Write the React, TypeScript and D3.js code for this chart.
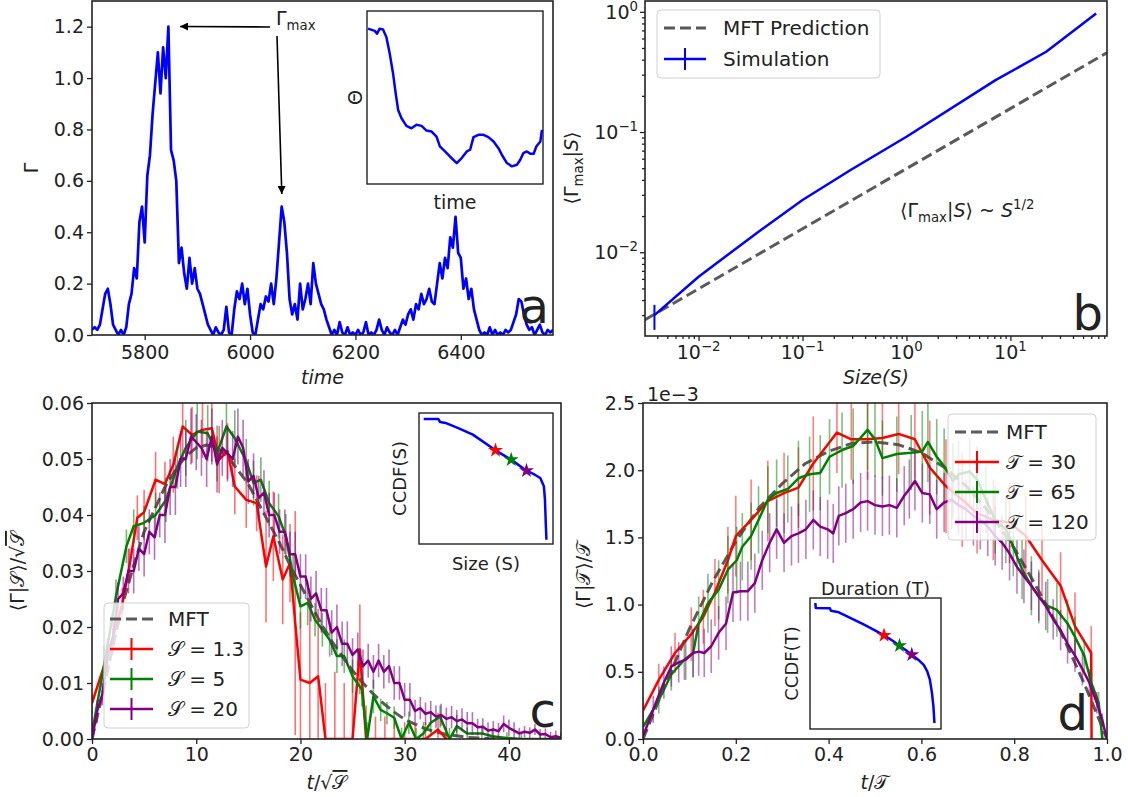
import React, { useEffect, useRef } from "react";
import * as d3 from "d3";

const FONT = "DejaVu Sans, sans-serif";
const INK = "#222";
const BLUE = "#0000ff";
const RED = "#ff0000";
const GREEN = "#008000";
const PURPLE = "#800080";
const MFT = "#5a5a5a";
const SCRIPT_S = "\u{1D4AE}";
const SCRIPT_T = "\u{1D4AF}";

/* ---------------------------------------
   Panel a: Gamma(t) time series + Theta inset
-----------------------------------------*/
const aStart = 5700;
const aStep = 5;
const aGamma = [
  0.02, 0.03, 0.02, 0.04, 0.10, 0.16, 0.18, 0.12, 0.04, 0.02,
  0.00, 0.02, 0.00, 0.03, 0.12, 0.16, 0.26, 0.22, 0.44, 0.50,
  0.36, 0.62, 0.70, 0.86, 0.98, 1.10, 0.94, 1.12, 1.00, 1.20,
  0.72, 0.68, 0.60, 0.28, 0.34, 0.24, 0.18, 0.30, 0.20, 0.26,
  0.18, 0.16, 0.12, 0.08, 0.04, 0.02, 0.00, 0.03, 0.01, 0.00,
  0.02, 0.11, 0.01, 0.00, 0.10, 0.17, 0.14, 0.20, 0.12, 0.18,
  0.08, 0.01, 0.00, 0.06, 0.12, 0.10, 0.15, 0.13, 0.20, 0.12,
  0.22, 0.36, 0.50, 0.44, 0.32, 0.14, 0.08, 0.12, 0.06, 0.20,
  0.10, 0.14, 0.20, 0.12, 0.28, 0.20, 0.16, 0.12, 0.10, 0.06,
  0.03, 0.00, 0.02, 0.00, 0.05, 0.01, 0.00, 0.03, 0.00, 0.01,
  0.00, 0.02, 0.00, 0.01, 0.05, 0.00, 0.01, 0.00, 0.02, 0.06,
  0.02, 0.00, 0.03, 0.01, 0.00, 0.02, 0.00, 0.03, 0.06, 0.04,
  0.08, 0.10, 0.06, 0.12, 0.10, 0.16, 0.12, 0.14, 0.18, 0.13,
  0.12, 0.20, 0.28, 0.22, 0.30, 0.26, 0.38, 0.34, 0.46, 0.32,
  0.30, 0.18, 0.22, 0.14, 0.18, 0.10, 0.06, 0.02, 0.00, 0.01,
  0.00, 0.03, 0.00, 0.02, 0.00, 0.01, 0.00, 0.02, 0.01, 0.02,
  0.05, 0.08, 0.14, 0.13, 0.08, 0.04, 0.02, 0.03, 0.00, 0.02,
  0.04, 0.01, 0.00, 0.02, 0.01, 0.02,
];
const aXTicks = [5800, 6000, 6200, 6400];
const aYTicks = [0, 0.2, 0.4, 0.6, 0.8, 1.0, 1.2];

const thetaTime = [
  0.6, 4.4, 5.7, 7.2, 9.1, 11.0, 12.9, 14.8, 16.3, 17.7, 19.6, 22.4, 25.3, 28.1,
  31.0, 33.8, 36.7, 39.5, 41.4, 44.3, 47.1, 51.0, 53.8, 56.7, 58.6, 60.5, 63.3,
  66.2, 69.0, 71.9, 74.7, 76.6, 79.5, 82.3, 85.2, 87.1, 88.8, 90.9, 92.8, 94.7,
  96.2, 98.5, 99.4,
];
const thetaVal = [
  0.898, 0.885, 0.869, 0.898, 0.893, 0.85, 0.754, 0.639, 0.524, 0.428, 0.38,
  0.336, 0.322, 0.342, 0.336, 0.309, 0.303, 0.274, 0.217, 0.188, 0.159, 0.121,
  0.15, 0.188, 0.198, 0.271, 0.284, 0.284, 0.271, 0.246, 0.207, 0.169, 0.121,
  0.102, 0.111, 0.14, 0.178, 0.188, 0.175, 0.175, 0.217, 0.246, 0.313,
];

/* ---------------------------------------
   Panel b: <Gamma_max | S> vs S (log-log)
-----------------------------------------*/
const bSimSize = [0.00376, 0.01, 0.0361, 0.1, 0.29, 1, 7.2, 22.1, 66.8];
const bSimGamma = [0.003, 0.00626, 0.0144, 0.0272, 0.0483, 0.0914, 0.27, 0.465, 0.97];
const bSimErrLow = [0.00226];
const bSimErrHigh = [0.00365];
const bMftSize = [0.00305, 85];
const bMftGamma = [0.00274, 0.457];
const bXExp = [-2, -1, 0, 1];
const bYExp = [-2, -1, 0];

/* ---------------------------------------
   Panel c: average shape at fixed size
-----------------------------------------*/
const cMftT = [0, 1, 2, 3, 4, 5, 6, 7, 8, 9, 10, 11, 12, 13, 14, 15, 16, 17, 18, 19, 20, 21, 22, 23, 24, 25, 26, 27, 28, 29, 30, 32, 34, 36, 38, 40];
const cMftV = [
  0, 0.008, 0.0165, 0.0245, 0.031, 0.037, 0.041, 0.045, 0.048, 0.0505,
  0.052, 0.0525, 0.052, 0.0505, 0.048, 0.0455, 0.042, 0.0385, 0.035, 0.031,
  0.0275, 0.024, 0.0205, 0.0175, 0.0148, 0.0122, 0.01, 0.008, 0.0063, 0.0048,
  0.0035, 0.0018, 0.0008, 0.0003, 0.0001, 0,
];
const cRedT = [0, 1.5, 2.9, 3.6, 4.35, 5, 6.1, 7, 7.8, 8.7, 9.6, 10.6, 11.5, 12.2, 13, 13.7, 14.8, 15.8, 16.7, 17.4, 18.3, 19, 19.5, 20, 20.9, 21.7, 22.4, 23.3, 24.2, 25, 25.7, 26.3, 27.2, 28.1, 29, 30, 31, 32, 33.2, 34];
const cRedV = [
  0.0064, 0.015, 0.024, 0.031, 0.0395, 0.0405, 0.0463, 0.0455, 0.049, 0.0558,
  0.0543, 0.0552, 0.0555, 0.0499, 0.0514, 0.0451, 0.0427, 0.0421, 0.0308, 0.0362,
  0.0285, 0.0314, 0.0207, 0.0106, 0.01, 0.0112, 0, 0, 0, 0,
  0.016, 0, 0, 0, 0, 0, 0, 0, 0.0017, 0,
];
const cRedE = [
  0.002, 0.003, 0.003, 0.003, 0.004, 0.004, 0.005, 0.004, 0.005, 0.006,
  0.005, 0.005, 0.006, 0.006, 0.005, 0.005, 0.005, 0.005, 0.01, 0.008,
  0.008, 0.007, 0.02, 0.012, 0.015, 0.012, 0.01, 0.012, 0.01, 0.012,
  0.008, 0.006, 0.004, 0.004, 0.004, 0.003, 0.003, 0.003, 0.003, 0.002,
];
const cGreenT = [0, 1.2, 2.3, 3.3, 4, 5, 6.1, 7.1, 8.2, 9, 10.1, 11.1, 12, 12.9, 13.7, 14.8, 15.5, 16.2, 17, 17.9, 18.6, 19.3, 20, 20.7, 21.4, 22.1, 22.8, 23.5, 24.2, 25, 25.9, 26.4, 27, 27.7, 28.3, 29, 29.7, 30.4, 31.1, 31.8, 32.5, 33.4, 34.3, 35, 36, 37.4, 38.4, 39.8, 41.2, 43, 45];
const cGreenV = [
  0.001, 0.0136, 0.0255, 0.0344, 0.038, 0.0386, 0.04, 0.0427, 0.0487, 0.052,
  0.0549, 0.0546, 0.051, 0.0558, 0.0537, 0.0496, 0.0457, 0.0463, 0.0421, 0.0398,
  0.0362, 0.029, 0.0237, 0.0243, 0.0213, 0.0195, 0.0177, 0.0148, 0.0148, 0.0112,
  0.0088, 0, 0.0076, 0.0052, 0.0046, 0.0038, 0, 0.0029, 0, 0.001,
  0.0029, 0.004, 0, 0.0023, 0.001, 0.001, 0.0005, 0.0002, 0, 0, 0,
];
const cGreenE = [
  0.002, 0.003, 0.003, 0.003, 0.003, 0.003, 0.004, 0.004, 0.004, 0.005,
  0.005, 0.005, 0.005, 0.005, 0.005, 0.004, 0.004, 0.004, 0.004, 0.004,
  0.004, 0.004, 0.004, 0.004, 0.003, 0.003, 0.003, 0.003, 0.003, 0.003,
  0.003, 0.003, 0.003, 0.002, 0.002, 0.002, 0.002, 0.002, 0.002, 0.002,
  0.002, 0.002, 0.002, 0.002, 0.001, 0.001, 0.001, 0.001, 0.001, 0.001, 0.001,
];
const cPurpleStep = 0.5;
const cPurpleV = [
  0.0, 0.005, 0.008, 0.015, 0.018, 0.025, 0.026, 0.03, 0.03, 0.034,
  0.033, 0.037, 0.036, 0.04, 0.04, 0.045, 0.045, 0.05, 0.05, 0.054,
  0.053, 0.052, 0.05, 0.054, 0.049, 0.052, 0.051, 0.05, 0.054, 0.052,
  0.046, 0.047, 0.043, 0.044, 0.04, 0.04, 0.037, 0.037, 0.033, 0.033,
  0.029, 0.029, 0.025, 0.026, 0.023, 0.023, 0.019, 0.02, 0.017, 0.017,
  0.015, 0.016, 0.013, 0.014, 0.012, 0.014, 0.012, 0.013, 0.01, 0.01,
  0.007, 0.007, 0.005, 0.0055, 0.0045, 0.0048, 0.004, 0.0043, 0.0036, 0.0039,
  0.0032, 0.0035, 0.0028, 0.0028, 0.0021, 0.0022, 0.0015, 0.0017, 0.0014, 0.0027,
  0.002, 0.0015, 0.001, 0.0013, 0.0011, 0.0017, 0.0008, 0.0009, 0.0003, 0.0005,
  0.0002,
];
const cPurpleE = [
  0.001, 0.002, 0.002, 0.003, 0.003, 0.003, 0.003, 0.004, 0.004, 0.004,
  0.004, 0.004, 0.004, 0.004, 0.005, 0.005, 0.005, 0.005, 0.005, 0.005,
  0.005, 0.005, 0.005, 0.005, 0.005, 0.005, 0.005, 0.005, 0.005, 0.005,
  0.004, 0.004, 0.004, 0.004, 0.004, 0.004, 0.004, 0.004, 0.004, 0.004,
  0.004, 0.004, 0.004, 0.004, 0.004, 0.004, 0.004, 0.004, 0.004, 0.004,
  0.003, 0.003, 0.003, 0.003, 0.003, 0.003, 0.003, 0.003, 0.003, 0.003,
  0.003, 0.003, 0.002, 0.002, 0.002, 0.002, 0.002, 0.002, 0.002, 0.002,
  0.002, 0.002, 0.002, 0.002, 0.0015, 0.0015, 0.0015, 0.0015, 0.0015, 0.0015,
  0.0015, 0.0015, 0.001, 0.001, 0.001, 0.001, 0.001, 0.001, 0.001, 0.001,
  0.001,
];
const cXTicks = [0, 10, 20, 30, 40];
const cYTicks = [0, 0.01, 0.02, 0.03, 0.04, 0.05, 0.06];
const cLegend = ["1.3", "5", "20"];
const cInsetX = [0.035, 0.144, 0.158, 0.198, 0.293, 0.402, 0.571, 0.688, 0.802, 0.864, 0.905, 0.932, 0.94, 0.946, 0.951];
const cInsetY = [0.954, 0.954, 0.931, 0.924, 0.885, 0.835, 0.715, 0.644, 0.56, 0.529, 0.504, 0.44, 0.338, 0.16, 0.033];
const cStarX = [0.571, 0.688, 0.802];
const cStarY = [0.715, 0.644, 0.56];

/* ---------------------------------------
   Panel d: average shape at fixed duration (units of 1e-3)
-----------------------------------------*/
const dMftT = [0, 0.05, 0.1, 0.15, 0.2, 0.25, 0.3, 0.35, 0.4, 0.45, 0.5, 0.55, 0.6, 0.65, 0.7, 0.75, 0.8, 0.85, 0.9, 0.95, 0.98, 1];
const dMftV = [0, 0.42, 0.82, 1.17, 1.47, 1.72, 1.9, 2.05, 2.14, 2.2, 2.21, 2.19, 2.13, 2.02, 1.87, 1.67, 1.42, 1.12, 0.8, 0.42, 0.17, 0];
const dRedT = [0, 0.034, 0.069, 0.104, 0.13, 0.155, 0.183, 0.2, 0.233, 0.269, 0.304, 0.335, 0.367, 0.418, 0.449, 0.484, 0.516, 0.551, 0.586, 0.618, 0.653, 0.688, 0.72, 0.755, 0.79, 0.825, 0.86, 0.9, 0.931, 0.966, 0.967];
const dRedV = [0.21, 0.44, 0.64, 0.78, 0.91, 1.09, 1.33, 1.51, 1.63, 1.77, 1.83, 1.87, 2.05, 2.28, 2.23, 2.23, 2.24, 2.27, 2.23, 2.02, 1.88, 1.78, 1.68, 1.63, 1.61, 1.51, 1.33, 1.14, 0.84, 0.64, -0.2];
const dRedE = [0.1, 0.12, 0.15, 0.2, 0.2, 0.25, 0.25, 0.3, 0.3, 0.3, 0.3, 0.3, 0.35, 0.3, 0.3, 0.3, 0.3, 0.3, 0.3, 0.35, 0.35, 0.35, 0.3, 0.3, 0.3, 0.3, 0.3, 0.25, 0.25, 0.2, 0];
const dGreenT = [0, 0.034, 0.061, 0.089, 0.108, 0.12, 0.14, 0.163, 0.183, 0.202, 0.214, 0.233, 0.249, 0.269, 0.288, 0.312, 0.335, 0.359, 0.382, 0.402, 0.429, 0.453, 0.484, 0.5, 0.516, 0.547, 0.578, 0.602, 0.614, 0.633, 0.649, 0.668, 0.68, 0.704, 0.72, 0.739, 0.759, 0.782, 0.798, 0.817, 0.837, 0.853, 0.872, 0.892, 0.915, 0.931, 0.951, 0.966, 0.982, 0.99];
const dGreenV = [0.09, 0.29, 0.48, 0.59, 0.64, 0.86, 1.01, 1.11, 1.26, 1.33, 1.43, 1.51, 1.63, 1.78, 1.83, 1.86, 1.94, 1.97, 1.98, 2.1, 2.15, 2.18, 2.3, 2.23, 2.09, 2.12, 2.13, 2.14, 2.21, 2.1, 2.03, 1.92, 1.97, 1.99, 1.93, 1.78, 1.63, 1.56, 1.43, 1.26, 1.14, 1.06, 0.99, 0.96, 0.86, 0.76, 0.62, 0.42, 0.27, 0];
const dGreenE = [0.05, 0.1, 0.12, 0.15, 0.18, 0.2, 0.22, 0.22, 0.25, 0.25, 0.25, 0.25, 0.25, 0.25, 0.25, 0.25, 0.28, 0.28, 0.28, 0.28, 0.28, 0.28, 0.3, 0.28, 0.28, 0.28, 0.28, 0.3, 0.3, 0.28, 0.28, 0.28, 0.25, 0.25, 0.25, 0.25, 0.25, 0.25, 0.22, 0.22, 0.22, 0.2, 0.2, 0.2, 0.18, 0.15, 0.12, 0.1, 0.08, 0.05];
const dPurpleT = [0, 0.022, 0.045, 0.061, 0.077, 0.092, 0.108, 0.12, 0.132, 0.147, 0.163, 0.179, 0.194, 0.21, 0.226, 0.241, 0.257, 0.273, 0.288, 0.304, 0.32, 0.335, 0.351, 0.367, 0.382, 0.398, 0.41, 0.422, 0.437, 0.453, 0.469, 0.484, 0.5, 0.516, 0.531, 0.547, 0.563, 0.574, 0.586, 0.602, 0.618, 0.633, 0.649, 0.665, 0.68, 0.696, 0.712, 0.727, 0.743, 0.759, 0.774, 0.79, 0.806, 0.821, 0.837, 0.853, 0.868, 0.884, 0.9, 0.915, 0.931, 0.947, 0.962, 0.978, 0.99, 0.998];
const dPurpleV = [0.02, 0.22, 0.42, 0.54, 0.57, 0.59, 0.64, 0.65, 0.64, 0.69, 0.79, 0.86, 1.09, 1.1, 1.1, 1.16, 1.33, 1.46, 1.56, 1.46, 1.51, 1.53, 1.56, 1.63, 1.58, 1.56, 1.53, 1.66, 1.68, 1.71, 1.76, 1.77, 1.74, 1.73, 1.74, 1.72, 1.81, 1.86, 1.92, 1.83, 1.82, 1.71, 1.76, 1.78, 1.74, 1.71, 1.66, 1.63, 1.58, 1.51, 1.46, 1.38, 1.28, 1.21, 1.14, 1.06, 0.99, 0.89, 0.81, 0.71, 0.62, 0.52, 0.42, 0.27, 0.14, 0.02];
const dPurpleE = [0.05, 0.1, 0.12, 0.15, 0.15, 0.15, 0.18, 0.18, 0.18, 0.2, 0.2, 0.2, 0.22, 0.22, 0.22, 0.22, 0.22, 0.22, 0.22, 0.22, 0.22, 0.22, 0.22, 0.22, 0.22, 0.22, 0.22, 0.22, 0.22, 0.22, 0.22, 0.22, 0.22, 0.22, 0.22, 0.22, 0.22, 0.22, 0.22, 0.22, 0.22, 0.22, 0.22, 0.22, 0.22, 0.22, 0.22, 0.22, 0.22, 0.22, 0.2, 0.2, 0.2, 0.2, 0.18, 0.18, 0.18, 0.15, 0.15, 0.15, 0.12, 0.12, 0.1, 0.08, 0.05, 0.02];
const dXTicks = [0, 0.2, 0.4, 0.6, 0.8, 1.0];
const dYTicks = [0, 0.5, 1.0, 1.5, 2.0, 2.5];
const dLegend = ["30", "65", "120"];
const dInsetX = [0.041, 0.044, 0.152, 0.16, 0.22, 0.303, 0.413, 0.496, 0.565, 0.634, 0.683, 0.73, 0.777, 0.826, 0.868, 0.895, 0.915, 0.931, 0.942, 0.95];
const dInsetY = [0.962, 0.924, 0.921, 0.903, 0.891, 0.85, 0.796, 0.753, 0.715, 0.672, 0.636, 0.603, 0.567, 0.529, 0.489, 0.44, 0.377, 0.275, 0.173, 0.046];
const dStarX = [0.565, 0.683, 0.777];
const dStarY = [0.715, 0.636, 0.567];

/* ---------------------------------------
   helpers
-----------------------------------------*/
type Part = { t: string; sub?: boolean; sup?: boolean; it?: boolean; over?: boolean };

function rich(text: any, parts: Part[], fs: number) {
  let off = 0;
  parts.forEach((p) => {
    const target = p.sub ? fs * 0.28 : p.sup ? -fs * 0.42 : 0;
    const ts = text.append("tspan").attr("dy", target - off).text(p.t);
    off = target;
    if (p.sub || p.sup) ts.attr("font-size", fs * 0.7);
    if (p.it) ts.attr("font-style", "italic");
    if (p.over) ts.style("text-decoration", "overline");
  });
  return text;
}

function label(svg: any, x: number, y: number, fs: number, anchor = "middle", rotate = false) {
  const t = svg
    .append("text")
    .attr("x", x)
    .attr("y", y)
    .attr("font-size", fs)
    .attr("fill", INK)
    .attr("text-anchor", anchor);
  if (rotate) t.attr("transform", `rotate(-90,${x},${y})`);
  return t;
}

function clipGroup(svg: any, id: string, x0: number, y0: number, x1: number, y1: number) {
  svg
    .select("defs")
    .append("clipPath")
    .attr("id", id)
    .append("rect")
    .attr("x", x0)
    .attr("y", y0)
    .attr("width", x1 - x0)
    .attr("height", y1 - y0);
  return svg.append("g").attr("clip-path", `url(#${id})`);
}

function frame(svg: any, x0: number, y0: number, x1: number, y1: number, fill = "none", sw = 1.6) {
  svg
    .append("rect")
    .attr("x", x0)
    .attr("y", y0)
    .attr("width", x1 - x0)
    .attr("height", y1 - y0)
    .attr("fill", fill)
    .attr("stroke", INK)
    .attr("stroke-width", sw);
}

function styleAxis(ax: any, fs = 19) {
  ax.select(".domain").remove();
  ax.selectAll(".tick line").attr("stroke", INK).attr("stroke-width", 1.3);
  ax.selectAll(".tick text").attr("font-size", fs).attr("fill", INK).attr("font-family", FONT);
}

function errBars(g: any, x: any, y: any, ts: number[], vs: number[], es: number[], color: string, op: number) {
  g.append("g")
    .selectAll("line")
    .data(ts.map((t, i) => ({ t, v: vs[i], e: es[i] })))
    .enter()
    .append("line")
    .attr("x1", (d: any) => x(d.t))
    .attr("x2", (d: any) => x(d.t))
    .attr("y1", (d: any) => y(d.v - d.e))
    .attr("y2", (d: any) => y(d.v + d.e))
    .attr("stroke", color)
    .attr("stroke-width", 1.6)
    .attr("opacity", op);
}

function series(g: any, x: any, y: any, ts: number[], vs: number[], color: string, w = 2.5, dash?: string) {
  const line = d3
    .line<number>()
    .x((_, i) => x(ts[i]))
    .y((v) => y(v));
  const p = g
    .append("path")
    .attr("d", line(vs))
    .attr("fill", "none")
    .attr("stroke", color)
    .attr("stroke-width", w)
    .attr("stroke-linejoin", "round");
  if (dash) p.attr("stroke-dasharray", dash);
}

function legendBox(svg: any, x0: number, y0: number, x1: number, y1: number) {
  svg
    .append("rect")
    .attr("x", x0)
    .attr("y", y0)
    .attr("width", x1 - x0)
    .attr("height", y1 - y0)
    .attr("rx", 4)
    .attr("fill", "#fff")
    .attr("fill-opacity", 0.8)
    .attr("stroke", "#d0d0d0")
    .attr("stroke-width", 1);
}

function handle(svg: any, x0: number, x1: number, y: number, color: string, kind: "dash" | "bar") {
  svg
    .append("line")
    .attr("x1", x0)
    .attr("x2", x1)
    .attr("y1", y)
    .attr("y2", y)
    .attr("stroke", color)
    .attr("stroke-width", kind === "dash" ? 3 : 2.5)
    .attr("stroke-dasharray", kind === "dash" ? "11,5" : null);
  if (kind === "bar") {
    const xm = (x0 + x1) / 2;
    svg.append("line").attr("x1", xm).attr("x2", xm).attr("y1", y - 11).attr("y2", y + 11).attr("stroke", color).attr("stroke-width", 2);
  }
}

function logLabel(svg: any, x: number, y: number, exp: number, anchor: string) {
  const t = label(svg, x, y, 19, anchor);
  rich(t, [{ t: "10" }, { t: exp < 0 ? `\u2212${-exp}` : `${exp}`, sup: true }], 19);
}

function stars(svg: any, xs: number[], ys: number[], x: any, y: any) {
  const colors = [RED, GREEN, PURPLE];
  xs.forEach((v, i) => {
    svg
      .append("path")
      .attr("d", d3.symbol().type(d3.symbolStar).size(70)())
      .attr("transform", `translate(${x(v)},${y(ys[i])})`)
      .attr("fill", colors[i]);
  });
}

/* ---------------------------------------
   panels
-----------------------------------------*/
function drawA(svg: any) {
  const [x0, x1, y0, y1] = [92, 553, 1, 335];
  const x = d3.scaleLinear().domain([5700, 6575]).range([x0, x1]);
  const y = d3.scaleLinear().domain([0, 1.3]).range([y1, y0]);
  const g = clipGroup(svg, "clipA", x0, y0, x1, y1);
  const times = aGamma.map((_, i) => aStart + i * aStep);
  series(g, x, y, times, aGamma, BLUE, 2.7);

  styleAxis(svg.append("g").attr("transform", `translate(0,${y1})`).call(d3.axisBottom(x).tickValues(aXTicks).tickFormat(d3.format("d")).tickSize(5).tickPadding(6)));
  styleAxis(svg.append("g").attr("transform", `translate(${x0},0)`).call(d3.axisLeft(y).tickValues(aYTicks).tickFormat(d3.format(".1f")).tickSize(5).tickPadding(3)));
  frame(svg, x0, y0, x1, y1);

  label(svg, (x0 + x1) / 2, 384, 19).attr("font-style", "italic").text("time");
  label(svg, 38, 168, 19, "middle", true).text("\u0393");

  // annotation
  const t = label(svg, 276, 25, 19, "start");
  rich(t, [{ t: "\u0393" }, { t: "max", sub: true }], 19);
  svg.append("line").attr("x1", 270).attr("y1", 27).attr("x2", 180).attr("y2", 26.5).attr("stroke", "#000").attr("stroke-width", 1.6).attr("marker-end", "url(#arr)");
  svg.append("line").attr("x1", 277).attr("y1", 36).attr("x2", 281.8).attr("y2", 194).attr("stroke", "#000").attr("stroke-width", 1.6).attr("marker-end", "url(#arr)");

  // inset
  const [ix0, ix1, iy0, iy1] = [367, 543, 11, 184];
  frame(svg, ix0, iy0, ix1, iy1, "#fff", 1.4);
  const ix = d3.scaleLinear().domain([0, 100]).range([ix0, ix1]);
  const iy = d3.scaleLinear().domain([0, 1]).range([iy1, iy0]);
  series(svg, ix, iy, thetaTime, thetaVal, BLUE, 2.5);
  label(svg, (ix0 + ix1) / 2, 209, 19).text("time");
  label(svg, 355, (iy0 + iy1) / 2, 19, "middle", true).attr("dy", "0.35em").text("\u0398");

  label(svg, 549, 323, 48, "end").text("a");
}

function drawB(svg: any) {
  const [x0, x1, y0, y1] = [645, 1107, 1, 336];
  const x = d3.scaleLog().domain([0.00305, 85]).range([x0, x1]);
  const y = d3.scaleLog().domain([0.00201, 1.23]).range([y1, y0]);
  const g = clipGroup(svg, "clipB", x0, y0, x1, y1);
  series(g, x, y, bMftSize, bMftGamma, MFT, 3, "11,5");
  series(g, x, y, bSimSize, bSimGamma, BLUE, 2.5);
  g.append("line")
    .attr("x1", x(bSimSize[0]))
    .attr("x2", x(bSimSize[0]))
    .attr("y1", y(bSimErrLow[0]))
    .attr("y2", y(bSimErrHigh[0]))
    .attr("stroke", BLUE)
    .attr("stroke-width", 2);

  // major + minor ticks
  const minorX: number[] = [];
  const minorY: number[] = [];
  for (let k = -3; k <= 1; k++) {
    for (let m = 2; m <= 9; m++) {
      const v = m * Math.pow(10, k);
      if (v > 0.00305 && v < 85) minorX.push(v);
      if (v > 0.00201 && v < 1.23) minorY.push(v);
    }
  }
  const majX = bXExp.map((e) => Math.pow(10, e));
  const majY = bYExp.map((e) => Math.pow(10, e));
  styleAxis(svg.append("g").attr("transform", `translate(0,${y1})`).call(d3.axisBottom(x).tickValues(majX).tickFormat(() => "").tickSize(5)));
  styleAxis(svg.append("g").attr("transform", `translate(0,${y1})`).call(d3.axisBottom(x).tickValues(minorX).tickFormat(() => "").tickSize(3)));
  styleAxis(svg.append("g").attr("transform", `translate(${x0},0)`).call(d3.axisLeft(y).tickValues(majY).tickFormat(() => "").tickSize(5)));
  styleAxis(svg.append("g").attr("transform", `translate(${x0},0)`).call(d3.axisLeft(y).tickValues(minorY).tickFormat(() => "").tickSize(3)));
  bXExp.forEach((e) => logLabel(svg, x(Math.pow(10, e)), 359, e, "middle"));
  bYExp.forEach((e) => logLabel(svg, x0 - 7, y(Math.pow(10, e)) + 7, e, "end"));
  frame(svg, x0, y0, x1, y1);

  rich(label(svg, 876, 384, 19).attr("font-style", "italic"), [{ t: "Size(" }, { t: "S" }, { t: ")" }], 19);
  rich(label(svg, 578, 168, 19, "middle", true), [{ t: "\u27E8\u0393" }, { t: "max", sub: true }, { t: "|" }, { t: "S", it: true }, { t: "\u27E9" }], 19);
  rich(label(svg, 900, 217, 19, "start"), [
    { t: "\u27E8\u0393" },
    { t: "max", sub: true },
    { t: "|" },
    { t: "S", it: true },
    { t: "\u27E9 ~ " },
    { t: "S", it: true },
    { t: "1/2", sup: true },
  ], 19);

  // legend
  legendBox(svg, 657, 10, 880, 78);
  handle(svg, 664, 706, 28, MFT, "dash");
  handle(svg, 664, 706, 59, BLUE, "bar");
  label(svg, 723, 35, 20, "start").text("MFT Prediction");
  label(svg, 723, 66, 20, "start").text("Simulation");

  label(svg, 1103, 330, 48, "end").text("b");
}

function drawC(svg: any) {
  const [x0, x1, y0, y1] = [92, 561, 403, 739];
  const x = d3.scaleLinear().domain([0, 45]).range([x0, x1]);
  const y = d3.scaleLinear().domain([0, 0.06]).range([y1, y0]);
  const g = clipGroup(svg, "clipC", x0, y0, x1, y1);
  const pT = cPurpleV.map((_, i) => i * cPurpleStep);
  series(g, x, y, cMftT, cMftV, MFT, 3, "11,5");
  errBars(g, x, y, cRedT, cRedV, cRedE, RED, 0.55);
  series(g, x, y, cRedT, cRedV, RED, 2.5);
  errBars(g, x, y, cGreenT, cGreenV, cGreenE, GREEN, 0.55);
  series(g, x, y, cGreenT, cGreenV, GREEN, 2.5);
  errBars(g, x, y, pT, cPurpleV, cPurpleE, PURPLE, 0.55);
  series(g, x, y, pT, cPurpleV, PURPLE, 2.5);

  styleAxis(svg.append("g").attr("transform", `translate(0,${y1})`).call(d3.axisBottom(x).tickValues(cXTicks).tickFormat(d3.format("d")).tickSize(5).tickPadding(4)));
  styleAxis(svg.append("g").attr("transform", `translate(${x0},0)`).call(d3.axisLeft(y).tickValues(cYTicks).tickFormat(d3.format(".2f")).tickSize(5).tickPadding(3)));
  frame(svg, x0, y0, x1, y1);

  rich(label(svg, 327, 789, 19), [{ t: "t", it: true }, { t: "/\u221A" }, { t: SCRIPT_S, over: true }], 19);
  rich(label(svg, 24, 571, 19, "middle", true), [{ t: "\u27E8\u0393|" + SCRIPT_S + "\u27E9/\u221A" }, { t: SCRIPT_S, over: true }], 19);

  // legend
  legendBox(svg, 104, 603, 249, 728);
  handle(svg, 110, 153, 619, MFT, "dash");
  [RED, GREEN, PURPLE].forEach((c, i) => {
    handle(svg, 110, 153, 649 + i * 30, c, "bar");
    label(svg, 168, 656 + i * 30, 20, "start").text(`${SCRIPT_S} = ${cLegend[i]}`);
  });
  label(svg, 168, 626, 20, "start").text("MFT");

  // inset
  const [ix0, ix1, iy0, iy1] = [419, 553, 413, 544];
  frame(svg, ix0, iy0, ix1, iy1, "#fff", 1.4);
  const ix = d3.scaleLinear().domain([0, 1]).range([ix0, ix1]);
  const iy = d3.scaleLinear().domain([0, 1]).range([iy1, iy0]);
  series(svg, ix, iy, cInsetX, cInsetY, BLUE, 2.5);
  stars(svg, cStarX, cStarY, ix, iy);
  label(svg, 486, 570, 18).text("Size (S)");
  label(svg, 400, (iy0 + iy1) / 2, 18, "middle", true).attr("dy", "0.35em").text("CCDF(S)");

  label(svg, 556, 727, 48, "end").text("c");
}

function drawD(svg: any) {
  const [x0, x1, y0, y1] = [643, 1107, 403, 739];
  const x = d3.scaleLinear().domain([0, 1]).range([x0, x1]);
  const y = d3.scaleLinear().domain([0, 2.5]).range([y1, y0]);
  const g = clipGroup(svg, "clipD", x0, y0, x1, y1);
  series(g, x, y, dMftT, dMftV, MFT, 3, "11,5");
  errBars(g, x, y, dRedT, dRedV, dRedE, RED, 0.5);
  series(g, x, y, dRedT, dRedV, RED, 2.5);
  errBars(g, x, y, dGreenT, dGreenV, dGreenE, GREEN, 0.5);
  series(g, x, y, dGreenT, dGreenV, GREEN, 2.5);
  errBars(g, x, y, dPurpleT, dPurpleV, dPurpleE, PURPLE, 0.5);
  series(g, x, y, dPurpleT, dPurpleV, PURPLE, 2.5);

  styleAxis(svg.append("g").attr("transform", `translate(0,${y1})`).call(d3.axisBottom(x).tickValues(dXTicks).tickFormat(d3.format(".1f")).tickSize(5).tickPadding(4)));
  styleAxis(svg.append("g").attr("transform", `translate(${x0},0)`).call(d3.axisLeft(y).tickValues(dYTicks).tickFormat(d3.format(".1f")).tickSize(5).tickPadding(3)));
  frame(svg, x0, y0, x1, y1);
  label(svg, 647, 401, 19, "start").text("1e\u22123");

  rich(label(svg, 875, 789, 19), [{ t: "t", it: true }, { t: "/" + SCRIPT_T }], 19);
  label(svg, 590, 575, 19, "middle", true).text("\u27E8\u0393|" + SCRIPT_T + "\u27E9/" + SCRIPT_T);

  // legend
  legendBox(svg, 948, 414, 1096, 540);
  handle(svg, 955, 999, 432, MFT, "dash");
  label(svg, 1006, 439, 20, "start").text("MFT");
  [RED, GREEN, PURPLE].forEach((c, i) => {
    handle(svg, 955, 999, 462 + i * 30, c, "bar");
    label(svg, 1006, 469 + i * 30, 20, "start").text(`${SCRIPT_T} = ${dLegend[i]}`);
  });

  // inset
  const [ix0, ix1, iy0, iy1] = [810, 941, 598, 729];
  frame(svg, ix0, iy0, ix1, iy1, "#fff", 1.4);
  const ix = d3.scaleLinear().domain([0, 1]).range([ix0, ix1]);
  const iy = d3.scaleLinear().domain([0, 1]).range([iy1, iy0]);
  series(svg, ix, iy, dInsetX, dInsetY, BLUE, 2.5);
  stars(svg, dStarX, dStarY, ix, iy);
  label(svg, (ix0 + ix1) / 2, 595, 18).text("Duration (T)");
  label(svg, 792, (iy0 + iy1) / 2, 18, "middle", true).attr("dy", "0.35em").text("CCDF(T)");

  label(svg, 1088, 730, 48, "end").text("d");
}

export default function App() {
  const ref = useRef<SVGSVGElement>(null);

  useEffect(() => {
    const svg = d3.select(ref.current);
    svg.selectAll("*").remove();
    const defs = svg.append("defs");
    defs
      .append("marker")
      .attr("id", "arr")
      .attr("viewBox", "0 0 10 10")
      .attr("refX", 10)
      .attr("refY", 5)
      .attr("markerWidth", 9)
      .attr("markerHeight", 8)
      .attr("markerUnits", "userSpaceOnUse")
      .attr("orient", "auto")
      .append("path")
      .attr("d", "M0,0 L10,5 L0,10 z")
      .attr("fill", "#000");
    drawA(svg);
    drawB(svg);
    drawC(svg);
    drawD(svg);
  }, []);

  return (
    <svg
      ref={ref}
      width={1128}
      height={797}
      fontFamily={FONT}
      style={{ position: "absolute", left: 0, top: 0, background: "#fff" }}
    />
  );
}
